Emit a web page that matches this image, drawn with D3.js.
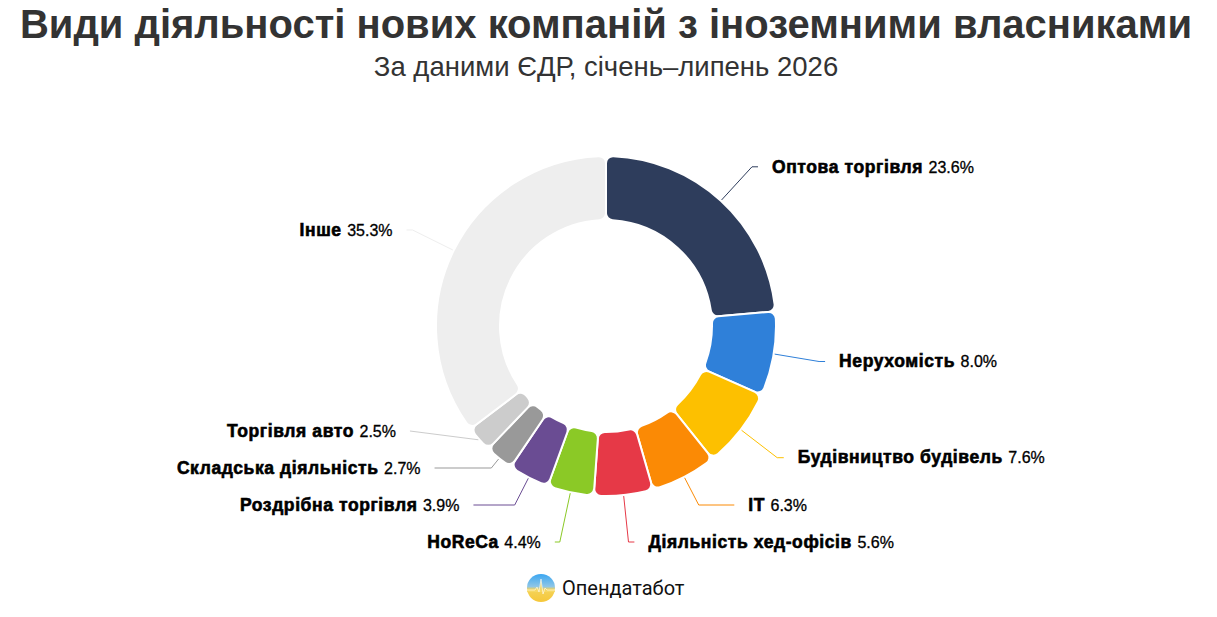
<!DOCTYPE html>
<html>
<head>
<meta charset="utf-8">
<script src="https://cdn.jsdelivr.net/npm/d3@7"></script>
<style>
  body { margin: 0; background: #fff; }
  svg { display: block; font-family: "Liberation Sans", Arial, sans-serif; }
</style>
</head>
<body>
<div id="chart"></div>
<script>
// data, clockwise from 12 o'clock
var categories = ["Оптова торгівля", "Нерухомість", "Будівництво будівель", "IT", "Діяльність хед-офісів",
                  "HoReCa", "Роздрібна торгівля", "Складська діяльність", "Торгівля авто", "Інше"];
var shares = [23.6, 8.0, 7.6, 6.3, 5.6, 4.4, 3.9, 2.7, 2.5, 35.3];
var colors = ["#2e3d5c", "#2f80d9", "#fdc000", "#fb8a05", "#e63947",
              "#8bc926", "#6a4c93", "#999999", "#cccccc", "#eeeeee"];

var W = 1217, H = 617, cx = 606, cy = 326, rOut = 170, rIn = 106
var len = 45, len2 = 6, gap = 37, textPad = 14

var svg = d3.select("#chart").append("svg")
  .attr("width", W)
  .attr("height", H);

// titles
svg.append("text")
  .attr("x", cx).attr("y", 38)
  .attr("text-anchor", "middle")
  .attr("font-size", 40).attr("font-weight", "bold")
  .attr("fill", "#333")
  .text("Види діяльності нових компаній з іноземними власниками");

svg.append("text")
  .attr("x", cx).attr("y", 76)
  .attr("text-anchor", "middle")
  .attr("font-size", 27.5)
  .attr("fill", "#333")
  .text("За даними ЄДР, січень–липень 2026");

// donut
var pie = d3.pie().sort(null).value(function(d){ return d; });
var arc = d3.arc().innerRadius(rIn).outerRadius(rOut).cornerRadius(7);
var arcs = pie(shares);

var g = svg.append("g").attr("transform", "translate(" + cx + "," + cy + ")");
g.selectAll("path.slice")
  .data(arcs)
  .enter().append("path")
  .attr("class", "slice")
  .attr("d", arc)
  .attr("fill", function(d, i){ return colors[i]; })
  .attr("stroke", "#fff")
  .attr("stroke-width", 2);

// label layout (push apart on each side, x on an ellipse)
var r0 = rOut + 1, rA = r0 + len, maxY = cy + rA;
var items = arcs.map(function(a, i){
  var mid = (a.startAngle + a.endAngle) / 2
  var sx = Math.sin(mid), sy = -Math.cos(mid)
  return {
    i: i, sx: sx, sy: sy,
    dir: sx < 0 ? -1 : 1,
    p0: [cx + r0 * sx, cy + r0 * sy],
    p1: [cx + rA * sx, cy + rA * sy],
    y: cy + rA * sy, y0: cy + rA * sy
  };
});

function layoutSide(list) {
  list.sort(function(a, b){ return a.y0 - b.y0; });
  for (var k = 1; k < list.length; k++) list[k].y = Math.max(list[k].y0, list[k-1].y + gap);
  var last = list[list.length - 1];
  if (last && last.y > maxY) {
    last.y = maxY;
    for (var k = list.length - 2; k >= 0; k--) list[k].y = Math.min(list[k].y, list[k+1].y - gap);
  }
  [list.filter(function(d){ return d.y <= cy; }), list.filter(function(d){ return d.y > cy; })]
    .forEach(function(semi){
      if (!semi.length) return;
      var far = semi.reduce(function(a, b){ return Math.abs(b.y - cy) > Math.abs(a.y - cy) ? b : a; });
      var dy = Math.abs(far.y - cy), dx = far.p1[0] - cx;
      var rB = Math.abs(dx) < rA ? Math.sqrt(dy * dy / (1 - dx * dx / rA / rA)) : rA;
      semi.forEach(function(d){
        var ey = Math.abs(d.y - cy);
        d.xEnd = cx + d.dir * (Math.sqrt(Math.max(0, 1 - ey * ey / rB / rB)) * rA + len2);
      });
    });
}
layoutSide(items.filter(function(d){ return d.dir > 0; }));
layoutSide(items.filter(function(d){ return d.dir < 0; }));

items.forEach(function(d){
  var pts = [d.p0];
  var t = (d.y - d.p0[1]) / d.sy;
  var bx = d.p0[0] + t * d.sx;
  if (t > 0 && (d.xEnd - bx) * d.dir >= 0) pts.push([bx, d.y]);
  pts.push([d.xEnd, d.y]);
  d.pts = pts;
});

svg.selectAll("path.leader")
  .data(items)
  .enter().append("path")
  .attr("class", "leader")
  .attr("d", function(d){ return d3.line()(d.pts); })
  .attr("fill", "none")
  .attr("stroke", function(d){ return colors[d.i]; })
  .attr("stroke-width", 1);

var lab = svg.selectAll("text.lab")
  .data(items)
  .enter().append("text")
  .attr("class", "lab")
  .attr("x", function(d){ return d.xEnd + d.dir * textPad; })
  .attr("y", function(d){ return d.y; })
  .attr("dy", "0.36em")
  .attr("text-anchor", function(d){ return d.dir > 0 ? "start" : "end"; })
  .attr("fill", "#000");
lab.append("tspan")
  .attr("font-weight", "bold")
  .attr("font-size", 17.5)
  .attr("letter-spacing", 0.6)
  .attr("stroke", "#000").attr("stroke-width", 0.6)
  .text(function(d){ return categories[d.i] + " "; });
lab.append("tspan")
  .attr("font-size", 16)
  .attr("stroke", "#000").attr("stroke-width", 0.3)
  .text(function(d){ return shares[d.i].toFixed(1) + "%"; });

// brand
var defs = svg.append("defs");
var grad = defs.append("linearGradient").attr("id", "logoGrad")
  .attr("x1", 0).attr("y1", 0).attr("x2", 0).attr("y2", 1);
grad.append("stop").attr("offset", "0%").attr("stop-color", "#3aa6f2");
grad.append("stop").attr("offset", "45%").attr("stop-color", "#8fc6e6");
grad.append("stop").attr("offset", "55%").attr("stop-color", "#f4d35a");
grad.append("stop").attr("offset", "100%").attr("stop-color", "#f6c739");

var logo = svg.append("g").attr("transform", "translate(541,588)");
logo.append("circle").attr("r", 14).attr("fill", "url(#logoGrad)");
logo.append("path")
  .attr("d", "M-14 2 L-6 2 L-4 -1 L-2 4 L0 -9 L2 6 L4 0 L6 2 L14 2 L14 4 L-14 4 Z")
  .attr("fill", "#f6d866").attr("opacity", 0.9);
logo.append("path")
  .attr("d", "M-14 2 L-6 2 L-4 -1 L-2 4 L0 -9 L2 6 L4 0 L6 2 L14 2")
  .attr("fill", "none").attr("stroke", "#fff").attr("stroke-width", 1).attr("opacity", 0.6);

svg.append("text")
  .attr("x", 562).attr("y", 595)
  .attr("font-family", "Roboto, 'Noto Sans', sans-serif")
  .attr("font-size", 20)
  .attr("fill", "#111")
  .text("Опендатабот");
</script>
</body>
</html>
